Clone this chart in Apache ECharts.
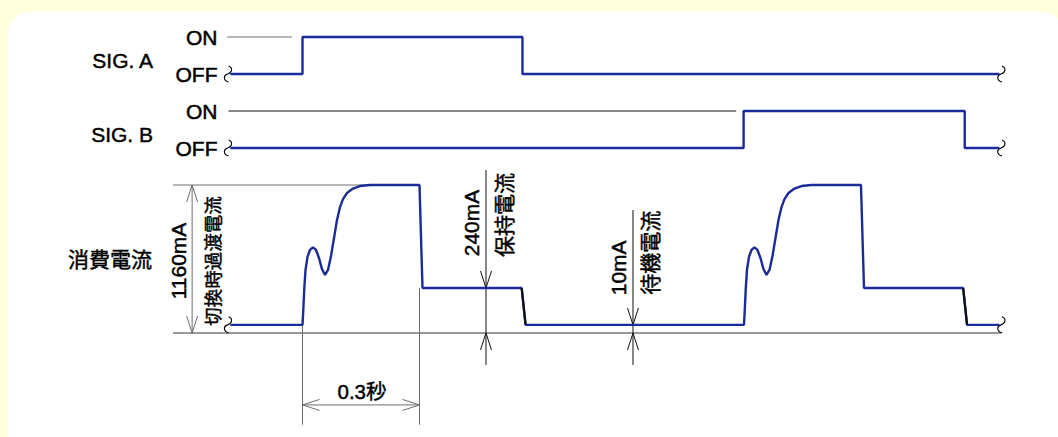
<!DOCTYPE html>
<html><head><meta charset="utf-8">
<script src="https://cdn.jsdelivr.net/npm/echarts@6/dist/echarts.min.js"></script>
<style>
html,body{margin:0;padding:0;background:#ffffdf;width:1058px;height:437px;overflow:hidden}
#panel{position:absolute;left:8px;top:12px;width:1056px;height:445px;background:#fff;border-radius:22px}
#chart{position:absolute;left:0;top:0;width:1058px;height:437px}
</style></head><body><div id="panel"></div><div id="chart"></div>
<script>
// ---------- data (time in ms, 0 = SIG. A switched on) ----------
const signalStates = ['OFF', 'ON'];
const sigATime  = [-185, 0, 0, 564, 564, 1787];
const sigAState = [0, 0, 1, 1, 0, 0];
const sigBTime  = [-185, 1131, 1131, 1698, 1698, 1787];
const sigBState = [0, 0, 1, 1, 0, 0];

// consumption current, schematic level (1 = 1160mA peak, 0.304 = 240mA hold, 0.055 = 10mA standby)
const currentTime = [-185, 0, 2, 4.4, 7.7, 12.8, 19.2, 26.9, 34.6, 42.3, 50, 57.7, 65.4, 73.1, 80.8, 88.5, 96.2, 103.8, 114.1, 129.5, 147.4, 173, 300, 307.7, 562,
  572, 1132, 1134, 1136.4, 1139.7, 1144.8, 1151.2, 1158.9, 1166.6, 1174.3, 1182, 1189.7, 1197.4, 1205.1, 1212.8, 1220.5, 1228.2, 1235.8, 1246.1, 1261.5, 1279.4, 1305, 1432, 1439.7, 1694,
  1704, 1787];
const currentLevel = [0.055, 0.055, 0.155, 0.291, 0.426, 0.514, 0.561, 0.579, 0.561, 0.507, 0.432, 0.392, 0.426, 0.520, 0.642, 0.764, 0.851, 0.905, 0.946, 0.976, 0.993, 1, 1, 0.304, 0.304,
  0.055, 0.055, 0.155, 0.291, 0.426, 0.514, 0.561, 0.579, 0.561, 0.507, 0.432, 0.392, 0.426, 0.520, 0.642, 0.764, 0.851, 0.905, 0.946, 0.976, 0.993, 1, 1, 0.304, 0.304,
  0.055, 0.055];
// falling edges to standby drawn in black
const dropTimes  = [[562, 572], [1694, 1704]];
const dropLevels = [0.304, 0.055];

// annotation labels
const peakLabel = '1160mA', peakNote = '切換時過渡電流';
const holdLabel = '240mA', holdNote = '保持電流';
const standbyLabel = '10mA', standbyNote = '待機電流';
const durationLabel = '0.3秒';
const sigNames = ['SIG. A', 'SIG. B'];
const currentName = '消費電流';

// annotation geometry in data units
const peakDimTime = -283, extLeftTime = -332, lineEndTime = 1791;
const holdDimTime = 470.5, standbyDimTime = 847.4;
const durationStart = 0, durationEnd = 300, durationLevel = -0.486, extBottomLevel = -0.62;
const onRefA = [-193, -27], onRefB = [-190, 1112];

// ---------- chart ----------
const BLUE = '#1b2b97', GREY = '#6e6e6e', BLACK = '#111';
const chart = echarts.init(document.getElementById('chart'), null, {renderer: 'svg'});
const LEFT = 146.5, WIDTH = 858, XMIN = -400, XMAX = 1800;
const grids = [
  {left: LEFT, width: WIDTH, top: 37, height: 37},
  {left: LEFT, width: WIDTH, top: 111, height: 37},
  {left: LEFT, width: WIDTH, top: 185, height: 251.6}
];
const LAT = 'Liberation Sans, Arial, sans-serif';
const CJK = '"Noto Sans CJK JP", sans-serif';
const xAxes = grids.map((g, i) => ({type: 'value', gridIndex: i, min: XMIN, max: XMAX, show: false}));
const stateAxis = i => ({type: 'value', gridIndex: i, min: 0, max: 1, interval: 1,
  axisLine: {show: false}, axisTick: {show: false}, splitLine: {show: false},
  axisLabel: {formatter: v => signalStates[v] || '', fontSize: 21, color: '#000', margin: -71, align: 'right',
    fontFamily: LAT, textBorderColor: '#000', textBorderWidth: 0.5}});
const yAxes = [stateAxis(0), stateAxis(1),
  {type: 'value', gridIndex: 2, min: -0.7, max: 1, show: false}];

const zip = (a, b) => a.map((v, i) => [v, b[i]]);
function ls(grid, data, color, width, z) {
  return {type: 'line', xAxisIndex: grid, yAxisIndex: grid, data, symbol: 'none', clip: false,
    silent: true, z: z || 2, lineStyle: {color, width}, animation: false};
}
const series = [
  ls(0, zip([onRefA[0], onRefA[1]], [1, 1]), GREY, 1, 1),
  ls(1, zip([onRefB[0], onRefB[1]], [1, 1]), BLACK, 1, 1),
  ls(0, zip(sigATime, sigAState), BLUE, 2.4),
  ls(1, zip(sigBTime, sigBState), BLUE, 2.4),
  // dimension / extension lines
  ls(2, [[extLeftTime, 1], [durationEnd, 1]], GREY, 1, 1),
  ls(2, [[extLeftTime, 0], [lineEndTime, 0]], '#333', 1, 1),
  ls(2, [[peakDimTime, 0], [peakDimTime, 1]], GREY, 1, 1),
  ls(2, [[durationStart, 0.055], [durationStart, extBottomLevel]], GREY, 1, 1),
  ls(2, [[durationEnd, 0.304], [durationEnd, extBottomLevel]], GREY, 1, 1),
  ls(2, [[durationStart, durationLevel], [durationEnd, durationLevel]], GREY, 1, 1),
  ls(2, [[holdDimTime, 1.101], [holdDimTime, -0.216]], BLACK, 1, 1),
  ls(2, [[standbyDimTime, 0.831], [standbyDimTime, -0.216]], BLACK, 1, 1),
  ls(2, zip(currentTime, currentLevel), BLUE, 2.4, 3)
].concat(dropTimes.map(t => ls(2, zip(t, dropLevels), BLACK, 2.2, 4)));

chart.setOption({animation: false, grid: grids, xAxis: xAxes, yAxis: yAxes, series});

// ---------- annotations placed through the axes ----------
const px = (g, t, v) => chart.convertToPixel({gridIndex: g}, [t, v]);
const gr = [];
function text(x, y, s, size, font, align, rot) {
  gr.push({type: 'text', x, y, rotation: rot || 0, silent: true,
    style: {text: s, fontSize: size, fontFamily: font, fill: '#000', align: align || 'center', verticalAlign: 'middle',
      stroke: '#000', lineWidth: 0.45}});
}
const vtext = (x, y, s, size, font) => text(x, y, s, size, font, 'center', Math.PI / 2);
function arrow(p, dx, dy, color) {
  const L = 17, W = 5.5;
  const bx = p[0] - dx * L, by = p[1] - dy * L;
  gr.push({type: 'polyline', silent: true, shape: {points: [[bx - dy * W, by + dx * W], [p[0], p[1]], [bx + dy * W, by - dx * W]]},
    style: {stroke: color, lineWidth: 1, fill: null}});
}
function squiggle(p) {
  const [x, y] = p;
  gr.push({type: 'bezierCurve', silent: true, shape: {x1: x + 1, y1: y - 8, cpx1: x + 6, cpy1: y - 6, cpx2: x + 4, cpy2: y - 1, x2: x, y2: y},
    style: {stroke: '#000', lineWidth: 1.1, fill: null}});
  gr.push({type: 'bezierCurve', silent: true, shape: {x1: x, y1: y, cpx1: x - 4, cpy1: y + 1, cpx2: x - 5, cpy2: y + 6, x2: x + 1, y2: y + 8},
    style: {stroke: '#000', lineWidth: 1.1, fill: null}});
}

// signal names
[0, 1].forEach(g => {
  const a = px(g, 0, 1), b = px(g, 0, 0);
  text(153, (a[1] + b[1]) / 2 + 5, sigNames[g], 21, LAT, 'right');
});
const cMid = px(2, 0, 0.5);
text(152, cMid[1] - 1, currentName, 21, CJK, 'right');

// break marks
squiggle(px(0, -192, 0)); squiggle(px(1, -192, 0)); squiggle(px(2, -192, 0.055));
squiggle(px(0, 1791, 0)); squiggle(px(1, 1791, 0)); squiggle(px(2, 1791, 0.055));

// 1160mA dimension
const pTop = px(2, peakDimTime, 1), pBot = px(2, peakDimTime, 0);
arrow(pTop, 0, -1, GREY); arrow(pBot, 0, 1, GREY);
vtext(pTop[0] - 14, (pTop[1] + pBot[1]) / 2 + 2, peakLabel, 21, LAT);
vtext(pTop[0] + 20, (pTop[1] + pBot[1]) / 2 + 2, peakNote, 18.5, CJK);

// 0.3s dimension
const dL = px(2, durationStart, durationLevel), dR = px(2, durationEnd, durationLevel);
arrow(dL, -1, 0, GREY); arrow(dR, 1, 0, GREY);
text((dL[0] + dR[0]) / 2 + 1, dL[1] - 13, durationLabel, 20.5, 'Liberation Sans, "Noto Sans CJK JP", sans-serif');

// 240mA dimension
const hTop = px(2, holdDimTime, 0.304), hBot = px(2, holdDimTime, 0);
arrow(hTop, 0, 1, BLACK); arrow(hBot, 0, -1, BLACK);
vtext(hTop[0] - 14, hTop[1] - 65, holdLabel, 21, LAT);
vtext(hTop[0] + 17, hTop[1] - 73, holdNote, 21, CJK);

// 10mA dimension
const sTop = px(2, standbyDimTime, 0.055), sBot = px(2, standbyDimTime, 0);
arrow(sTop, 0, 1, BLACK); arrow(sBot, 0, -1, BLACK);
vtext(sTop[0] - 14, sTop[1] - 57, standbyLabel, 21, LAT);
vtext(sTop[0] + 16, sTop[1] - 72, standbyNote, 21, CJK);

chart.setOption({graphic: gr});
</script></body></html>
